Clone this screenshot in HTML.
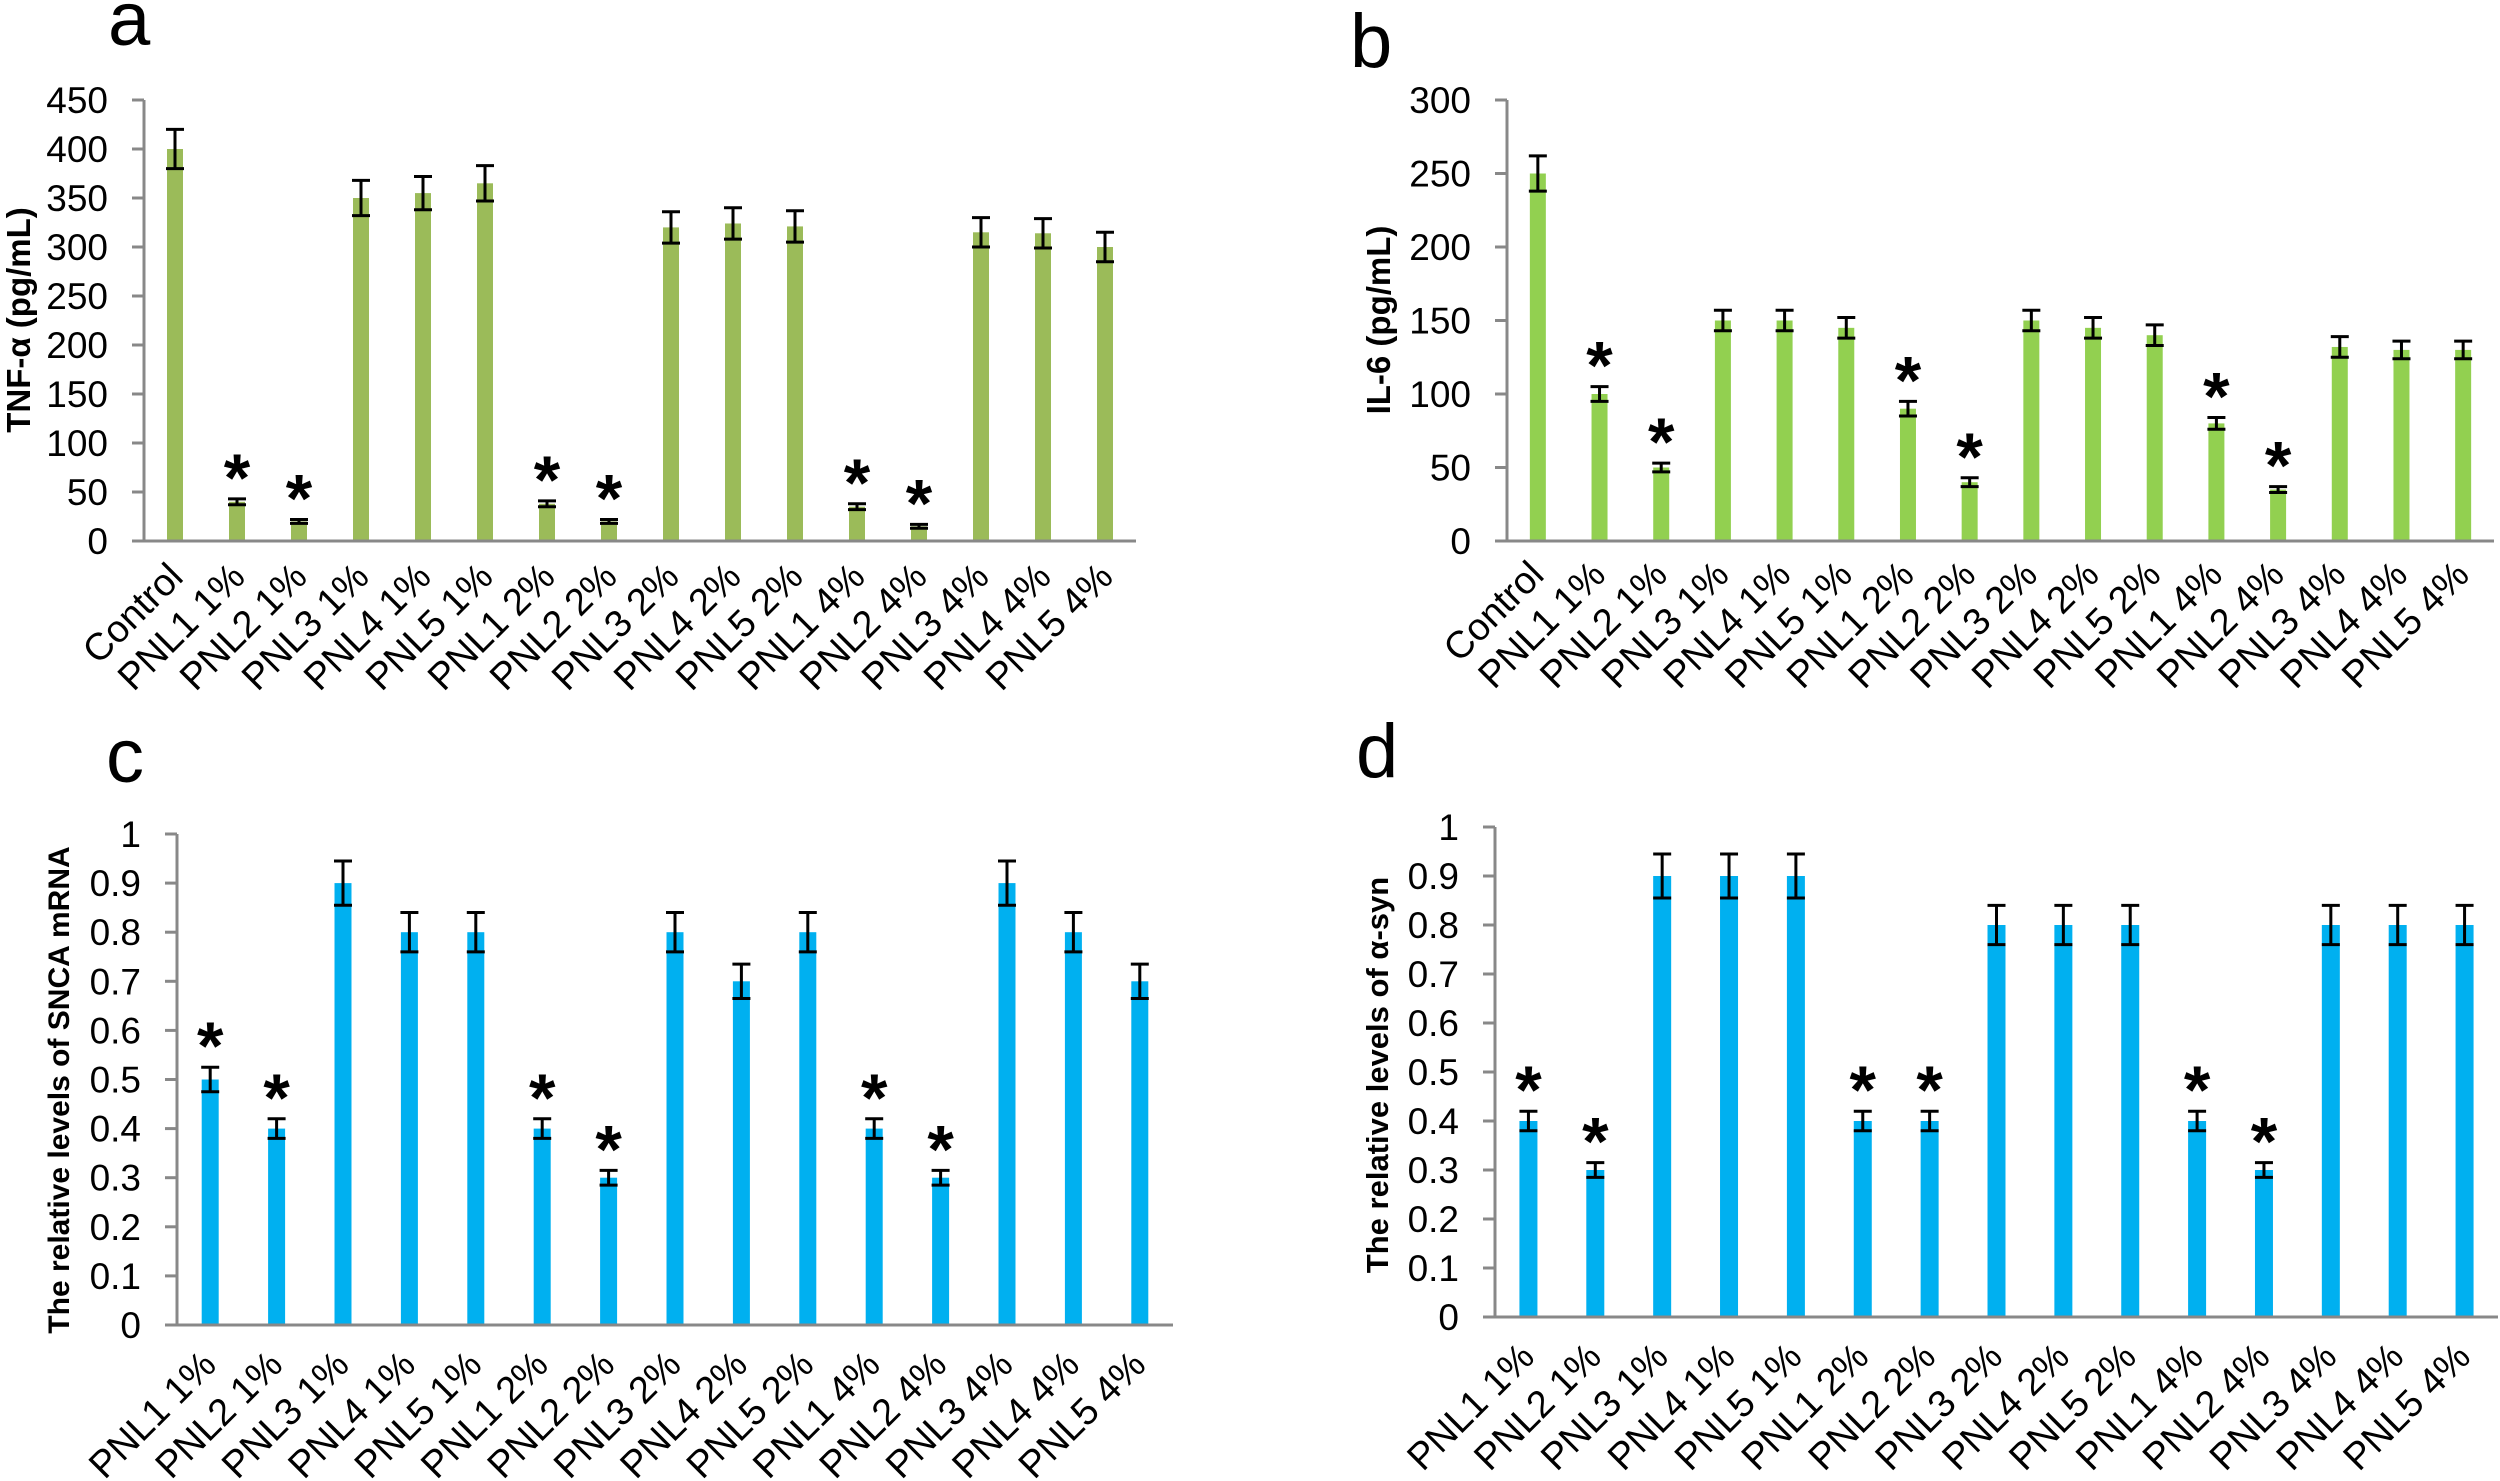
<!DOCTYPE html>
<html><head><meta charset="utf-8">
<style>
html,body{margin:0;padding:0;background:#fff;}
svg{display:block;font-family:"Liberation Sans",Arial,sans-serif;}
</style></head>
<body>
<svg id="fig" width="2500" height="1481" viewBox="0 0 2500 1481" xmlns="http://www.w3.org/2000/svg">
<rect width="2500" height="1481" fill="#fff"/>
</svg>
<script>
// Panel a: TNF-alpha
const catsA = ["Control","PNL1 1%","PNL2 1%","PNL3 1%","PNL4 1%","PNL5 1%","PNL1 2%","PNL2 2%","PNL3 2%","PNL4 2%","PNL5 2%","PNL1 4%","PNL2 4%","PNL3 4%","PNL4 4%","PNL5 4%"];
const valsA = [400,40,20,350,355,365,38,20,320,324,321,35,15,315,314,300];
const errsA = [20,3,2,18,17,18,3,2,16,16,16,3,2,15,15,15];
const starsA = [false,true,true,false,false,false,true,true,false,false,false,true,true,false,false,false];
const ticksA = [0,50,100,150,200,250,300,350,400,450];
// Panel b: IL-6
const valsB = [250,100,50,150,150,145,90,40,150,145,140,80,35,132,130,130];
const errsB = [12,5,3,7,7,7,5,3,7,7,7,4,2,7,6,6];
const starsB = [false,true,true,false,false,false,true,true,false,false,false,true,true,false,false,false];
const ticksB = [0,50,100,150,200,250,300];
// Panel c: SNCA mRNA
const catsC = ["PNL1 1%","PNL2 1%","PNL3 1%","PNL4 1%","PNL5 1%","PNL1 2%","PNL2 2%","PNL3 2%","PNL4 2%","PNL5 2%","PNL1 4%","PNL2 4%","PNL3 4%","PNL4 4%","PNL5 4%"];
const valsC = [0.5,0.4,0.9,0.8,0.8,0.4,0.3,0.8,0.7,0.8,0.4,0.3,0.9,0.8,0.7];
const errsC = [0.025,0.02,0.045,0.04,0.04,0.02,0.015,0.04,0.035,0.04,0.02,0.015,0.045,0.04,0.035];
const starsC = [true,true,false,false,false,true,true,false,false,false,true,true,false,false,false];
// Panel d: alpha-syn
const valsD = [0.4,0.3,0.9,0.9,0.9,0.4,0.4,0.8,0.8,0.8,0.4,0.3,0.8,0.8,0.8];
const errsD = [0.02,0.015,0.045,0.045,0.045,0.02,0.02,0.04,0.04,0.04,0.02,0.015,0.04,0.04,0.04];
const starsD = [true,true,false,false,false,true,true,false,false,false,true,true,false,false,false];
const ticksCD = [0,0.1,0.2,0.3,0.4,0.5,0.6,0.7,0.8,0.9,1];

const NS="http://www.w3.org/2000/svg";
const svg=document.getElementById('fig');
function mk(tag,attrs,parent){const e=document.createElementNS(NS,tag);for(const k in attrs)e.setAttribute(k,attrs[k]);(parent||svg).appendChild(e);return e;}

function panel(o){
  const g=mk('g',{});
  
  
  const n=o.cats.length;
  const step=(o.x1-o.x0)/n;
  const xs=i=>o.x0+step*(i+0.5);
  const ys=v=>o.y0-(v-o.min)/(o.max-o.min)*(o.y0-o.y1);
  const L=mk('text',{x:o.lx,y:o.ly,'font-size':76,fill:'#000'},g);L.textContent=o.id;
  
  
  o.vals.forEach((v,i)=>{
    const r=mk('rect',{x:xs(i)-o.bw/2,y:ys(v),width:o.bw,height:o.y0-ys(v),fill:o.color},g);
    
    
    const e=o.errs[i],cx=xs(i),t=ys(v+e),b=ys(v-e);
    const eb=mk('path',{d:`M${cx},${t}V${b}M${cx-9},${t}H${cx+9}M${cx-9},${b}H${cx+9}`,stroke:'#000','stroke-width':3,fill:'none'},g);
    
    
    if(o.stars[i]){
      const s=mk('text',{x:cx,y:t+2,'font-size':68,'font-weight':'bold','text-anchor':'middle',fill:'#000'},g);
      s.textContent='*';
      
      
    }
    const lx=cx+o.lox, ly=o.y0+o.loy;
    const tl=mk('text',{x:lx,y:ly,'font-size':38,'text-anchor':'end',fill:'#000',transform:`rotate(-45 ${lx} ${ly})`},g);
    tl.textContent=o.cats[i];
    
    
  });
  const ax=mk('path',{d:`M${o.x0},${o.y1}V${o.y0}M${o.x0-12},${o.y0}H${o.x1}`,stroke:'#888','stroke-width':3,fill:'none'},g);
  
  
  o.ticks.forEach(t=>{
    const y=ys(t);
    const tk=mk('line',{x1:o.x0-12,x2:o.x0,y1:y,y2:y,stroke:'#888','stroke-width':3},g);
    
    
    const tt=mk('text',{x:o.x0-36,y:y+13,'font-size':37,'text-anchor':'end',fill:'#000'},g);
    tt.textContent=String(t);
    
    
  });
  const yt=mk('text',{x:o.tx,y:o.ty,'font-size':o.tfs,'font-weight':'bold','text-anchor':'middle',fill:'#000',transform:`rotate(-90 ${o.tx} ${o.ty})`},g);
  yt.textContent=o.title;
  
  
}

panel({id:'a',cats:catsA,vals:valsA,errs:errsA,stars:starsA,ticks:ticksA,min:0,max:450,
  x0:144,x1:1136,y0:541,y1:100,bw:16,color:'#9BBB59',lx:108,ly:45,tx:30,ty:320,tfs:33,title:'TNF-α (pg/mL)',lox:10,loy:38});
panel({id:'b',cats:catsA,vals:valsB,errs:errsB,stars:starsB,ticks:ticksB,min:0,max:300,
  x0:1507,x1:2494,y0:541,y1:100,bw:16,color:'#92D050',lx:1350,ly:67,tx:1390,ty:320,tfs:33,title:'IL-6 (pg/mL)',lox:8,loy:36});
panel({id:'c',cats:catsC,vals:valsC,errs:errsC,stars:starsC,ticks:ticksCD,min:0,max:1,
  x0:177,x1:1173,y0:1325,y1:834,bw:17,color:'#00B0F0',lx:106,ly:782,tx:69,ty:1090,tfs:30,title:'The relative levels of SNCA mRNA',lox:8,loy:42});
panel({id:'d',cats:catsC,vals:valsD,errs:errsD,stars:starsD,ticks:ticksCD,min:0,max:1,
  x0:1495,x1:2498,y0:1317,y1:827,bw:18,color:'#00B0F0',lx:1356,ly:777,tx:1388,ty:1075,tfs:31,title:'The relative levels of α-syn',lox:8,loy:42});
</script>
</body></html>
